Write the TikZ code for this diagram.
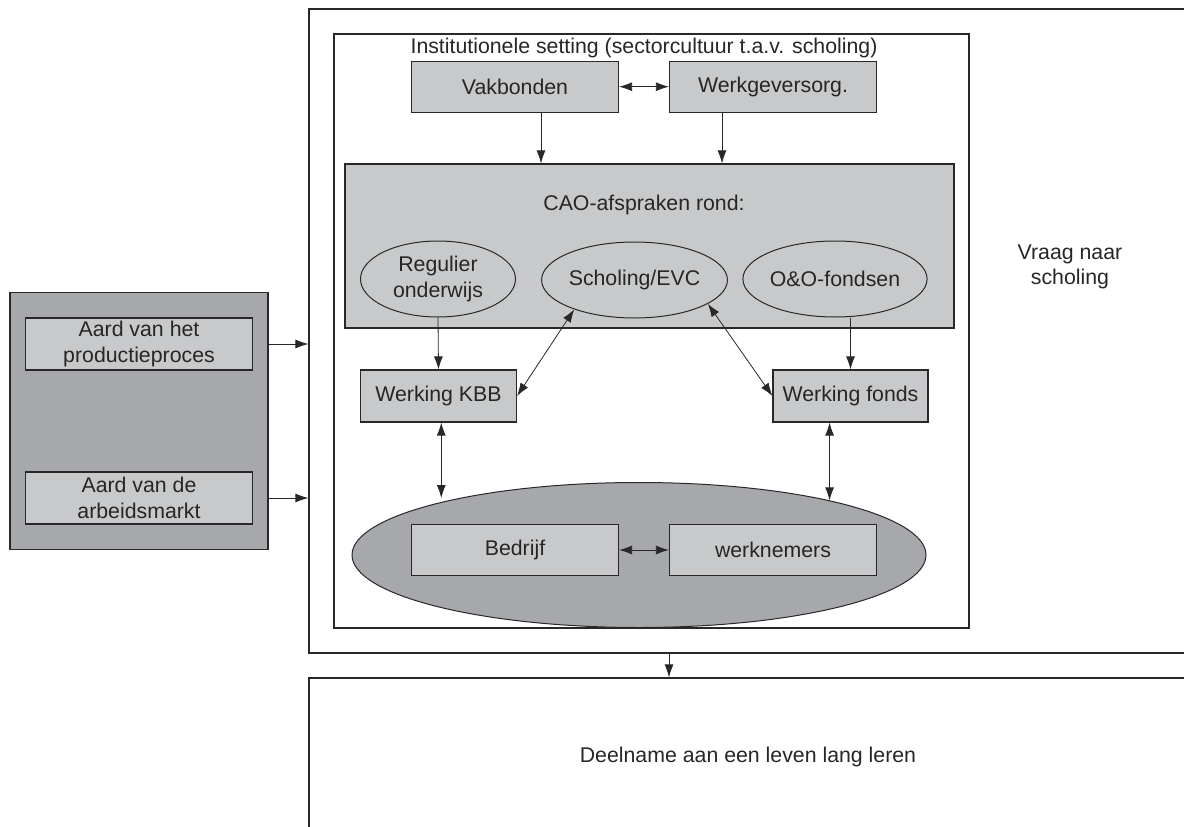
\documentclass[tikz,border=0pt]{standalone}
\usepackage{fontspec}
\setmainfont{Liberation Sans}
\usetikzlibrary{shapes.geometric,arrows.meta,calc}
\definecolor{lightg}{RGB}{200,201,203}
\definecolor{darkg}{RGB}{167,168,171}
\definecolor{linec}{RGB}{40,40,40}
\begin{document}
\begin{tikzpicture}[x=1pt,y=-1pt,
  every node/.style={font=\fontsize{21.3}{25.6}\selectfont, text=black!85, inner sep=0pt},
  frame/.style={draw=linec, line width=1.2pt, rectangle},
  gbox/.style={draw=linec, fill=lightg, line width=1.2pt, rectangle, align=center},
  gell/.style={draw=linec, fill=lightg, line width=1pt, ellipse, align=center, minimum width=155pt, minimum height=76pt},
  arr/.style={-{Latex[length=13pt,width=9pt]}, line width=0.8pt, draw=linec},
  darr/.style={{Latex[length=13pt,width=9pt]}-{Latex[length=13pt,width=9pt]}, line width=0.8pt, draw=linec}]
\clip (0,0) rectangle (1184,827);
% outer frames
\node[frame, minimum width=991pt, minimum height=644pt] (outer) at (804.5,331) {};
\node[frame, minimum width=991pt, minimum height=222pt] (bottom) at (804.5,789) {};
\node[frame, minimum width=635pt, minimum height=594pt] (inst) at (651.5,331) {};
\node (insttitle) at (644,48) {Institutionele setting (sectorcultuur t.a.v. scholing)};
\node[align=center] (vraag) at (1070,267) {Vraag naar\\scholing};
\node (deel) at (748,757) {Deelname aan een leven lang leren};
% left block
\node[draw=linec, fill=darkg, line width=1.2pt, minimum width=258pt, minimum height=257pt] (left) at (139,420.8) {};
\node[gbox, minimum width=227pt, minimum height=52pt] (prod) at (139,344) {Aard van het\\productieproces};
\node[gbox, minimum width=227pt, minimum height=52pt] (arbm) at (139,498) {Aard van de\\arbeidsmarkt};
% top boxes
\node[gbox, minimum width=207pt, minimum height=51pt] (vak) at (515,86.7) {Vakbonden};
\node[gbox, minimum width=207pt, minimum height=51pt] (werk) at (773,86.7) {Werkgeversorg.};
% CAO
\node[gbox, minimum width=609pt, minimum height=164pt] (cao) at (649.5,246) {};
\node (caotxt) at (644,205) {CAO-afspraken rond:};
\node[gell] (reg) at (438,279) {Regulier\\onderwijs};
\node[gell] (sch) at (634.5,280) {Scholing/EVC};
\node[gell] (oo) at (835,279) {O\&O-fondsen};
% werking
\node[gbox, minimum width=156pt, minimum height=52pt] (kbb) at (438.5,396) {Werking KBB};
\node[gbox, minimum width=155pt, minimum height=52pt] (fonds) at (850.5,396) {Werking fonds};
% big ellipse
\node[draw=linec, fill=darkg, line width=1pt, ellipse, minimum width=574pt, minimum height=145pt] (bigell) at (639,555) {};
\node[gbox, minimum width=207pt, minimum height=51pt] (bed) at (515,550) {Bedrijf};
\node[gbox, minimum width=207pt, minimum height=51pt] (wn) at (773,550) {werknemers};
% connectors
\draw[arr] (prod.east -| left.east) -- (prod.east -| outer.west);
\draw[arr] (arbm.east -| left.east) -- (arbm.east -| outer.west);
\draw[darr] (vak.east) -- (werk.west);
\coordinate (va) at ($(vak.south)+(26,0)$);
\coordinate (wa) at ($(werk.south)+(-51,0)$);
\draw[arr] (va) -- (va |- cao.north);
\draw[arr] (wa) -- (wa |- cao.north);
\draw[arr] (reg.south) -- (kbb.north);
\draw[arr] (fonds.north |- oo.south) -- (fonds.north);
\draw[darr] (sch.206) -- (kbb.east);
\draw[darr] (sch.342) -- (fonds.west);
\draw[darr, shorten >=4pt] (bigell.165.4 |- kbb.south) -- (bigell.165.4);
\draw[darr] (bigell.16.5 |- fonds.south) -- (bigell.16.5);
\draw[darr] (bed.east) -- (wn.west);
\coordinate (oa) at (669,0);
\draw[arr] (oa |- outer.south) -- (oa |- bottom.north);
\end{tikzpicture}
\end{document}
